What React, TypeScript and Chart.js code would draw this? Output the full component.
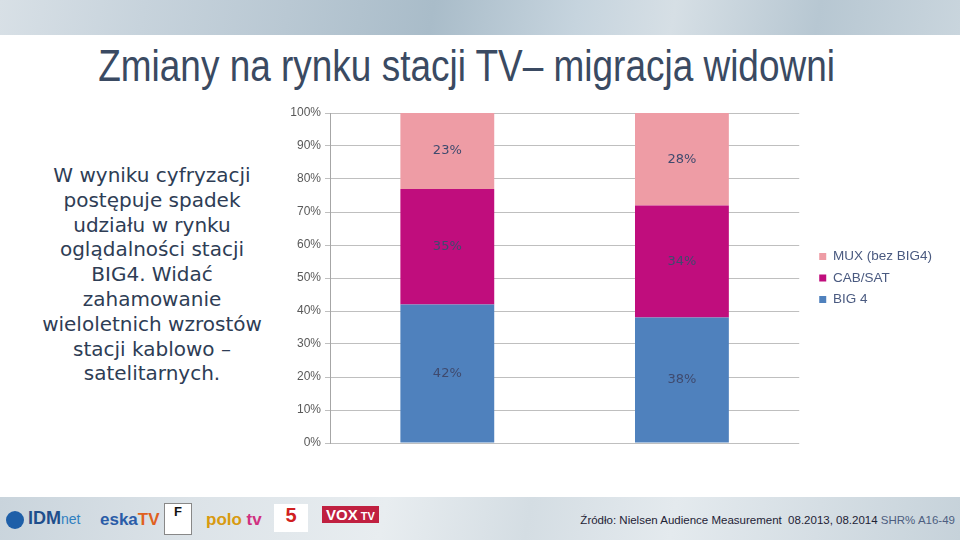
import React, { useEffect, useRef } from "react";
import { Chart, registerables } from "chart.js";

Chart.register(...registerables);

const categories = ["08.2013", "08.2014"];
const big4Values = [42, 38];
const cabSatValues = [35, 34];
const muxValues = [23, 28];
const seriesNames = ["BIG 4", "CAB/SAT", "MUX (bez BIG4)"];
const seriesColors = ["#4F81BD", "#C00D7D", "#EE9CA5"];
const yTicks = [0, 10, 20, 30, 40, 50, 60, 70, 80, 90, 100];

const titleText = "Zmiany na rynku stacji TV– migracja widowni";
const bodyLines = [
  "W wyniku cyfryzacji",
  "postępuje spadek",
  "udziału w rynku",
  "oglądalności stacji",
  "BIG4. Widać",
  "zahamowanie",
  "wieloletnich wzrostów",
  "stacji kablowo –",
  "satelitarnych.",
];
const sourceMain = "Źródło: Nielsen Audience Measurement  08.2013, 08.2014 ";
const sourceTail = "SHR% A16-49";

const labelPlugin = {
  id: "segLabels",
  afterDatasetsDraw(chart: any) {
    const { ctx } = chart;
    ctx.save();
    ctx.font = "13px 'DejaVu Sans', 'Liberation Sans', sans-serif";
    ctx.fillStyle = "#3F4A6E";
    ctx.textAlign = "center";
    ctx.textBaseline = "middle";
    chart.data.datasets.forEach((ds: any, di: number) => {
      const meta = chart.getDatasetMeta(di);
      meta.data.forEach((bar: any, i: number) => {
        const v = ds.data[i];
        const y = (bar.y + bar.base) / 2;
        ctx.fillText(v + "%", bar.x, y);
      });
    });
    ctx.restore();
  },
};

function ChartBox() {
  const ref = useRef<HTMLCanvasElement | null>(null);
  useEffect(() => {
    if (!ref.current) return;
    const values = [big4Values, cabSatValues, muxValues];
    const chart = new Chart(ref.current, {
      type: "bar",
      data: {
        labels: categories,
        datasets: values.map((d, i) => ({
          label: seriesNames[i],
          data: d,
          backgroundColor: seriesColors[i],
          borderWidth: 0,
          barPercentage: 0.4,
          categoryPercentage: 1,
        })),
      },
      options: {
        animation: false,
        responsive: false,
        maintainAspectRatio: false,
        layout: { padding: { top: 13, bottom: 17, right: 18, left: 0 } },
        plugins: {
          legend: {
            position: "right",
            reverse: true,
            maxWidth: 200,
            labels: {
              boxWidth: 7,
              boxHeight: 7,
              padding: 8,
              color: "#4A5A80",
              font: { size: 13.5, family: "'Liberation Sans', Arial, sans-serif" },
            },
          },
          tooltip: { enabled: false },
        },
        scales: {
          x: {
            stacked: true,
            display: false,
          },
          y: {
            stacked: true,
            min: 0,
            max: 100,
            afterFit: (s: any) => {
              s.width = 60;
            },
            afterBuildTicks: (s: any) => {
              s.ticks = yTicks.map((v) => ({ value: v }));
            },
            ticks: {
              color: "#595959",
              padding: 4,
              font: { size: 12, family: "'Liberation Sans', Arial, sans-serif" },
              callback: (v: any) => v + "%",
            },
            grid: { color: "#BFBFBF", lineWidth: 1, tickLength: 5, drawTicks: true },
            border: { color: "#A6A6A6", width: 1 },
          },
          y2: {
            position: "right",
            display: true,
            grid: { display: false, drawTicks: false },
            border: { display: false },
            ticks: { display: false },
            afterFit: (s: any) => {
              s.width = 12;
            },
          },
        },
      },
      plugins: [labelPlugin],
    } as any);
    return () => chart.destroy();
  }, []);
  return (
    <canvas
      ref={ref}
      width={690}
      height={360}
      style={{ position: "absolute", left: 270, top: 100, width: 690, height: 360 }}
    />
  );
}

export default function App() {
  return (
    <div
      style={{
        position: "fixed",
        left: 0,
        top: 0,
        width: 960,
        height: 540,
        background: "#FFFFFF",
        overflow: "hidden",
        fontFamily: "'Liberation Sans', Arial, sans-serif",
      }}
    >
      <div
        style={{
          position: "absolute",
          left: 0,
          top: 0,
          width: 960,
          height: 35,
          background:
            "linear-gradient(100deg, #D8E0E6 0%, #C7D3DC 15%, #B9C8D3 30%, #A9BCC9 45%, #C6D4DE 60%, #D6DFE5 70%, #B7C7D2 85%, #C9D5DD 100%)",
        }}
      />
      <div
        style={{
          position: "absolute",
          left: 0,
          top: 41,
          width: 960,
          textAlign: "center",
          fontSize: 44,
          color: "#3A4A62",
          whiteSpace: "nowrap",
          transform: "scaleX(0.84)",
          transformOrigin: "396px 0",
        }}
      >
        {titleText}
      </div>
      <div
        style={{
          position: "absolute",
          left: 12,
          top: 163,
          width: 280,
          textAlign: "center",
          fontFamily: "'DejaVu Sans', sans-serif",
          fontSize: 20,
          lineHeight: "24.8px",
          color: "#2E3D55",
        }}
      >
        {bodyLines.map((l, i) => (
          <div key={i}>{l}</div>
        ))}
      </div>
      <ChartBox />
      <div
        style={{
          position: "absolute",
          left: 0,
          top: 497,
          width: 960,
          height: 43,
          background:
            "linear-gradient(100deg, #C9D4DC 0%, #DCE3E8 20%, #E8EDF0 40%, #D4DDE3 55%, #E4EAEE 70%, #C6D2DA 100%)",
        }}
      />
      <div
        style={{
          position: "absolute",
          left: 6,
          top: 511,
          width: 18,
          height: 18,
          borderRadius: 9,
          background: "#1E5FA8",
        }}
      />
      <div style={{ position: "absolute", left: 28, top: 508, fontSize: 18, fontWeight: 700, color: "#1E4E8C" }}>
        IDM<span style={{ fontWeight: 400, fontSize: 14, color: "#2F7FC0" }}>net</span>
      </div>
      <div style={{ position: "absolute", left: 100, top: 510, fontSize: 17, fontWeight: 700, color: "#2A5CA8" }}>
        eska<span style={{ color: "#E06020" }}>TV</span>
      </div>
      <div
        style={{
          position: "absolute",
          left: 164,
          top: 503,
          width: 26,
          height: 30,
          background: "#FFFFFF",
          border: "1px solid #888",
          fontSize: 13,
          fontWeight: 700,
          textAlign: "center",
          color: "#111",
        }}
      >
        F
      </div>
      <div style={{ position: "absolute", left: 206, top: 510, fontSize: 17, fontWeight: 700, color: "#D89A10" }}>
        polo<span style={{ color: "#D03080" }}> tv</span>
      </div>
      <div
        style={{
          position: "absolute",
          left: 274,
          top: 504,
          width: 34,
          height: 28,
          background: "#FFFFFF",
          fontSize: 20,
          fontWeight: 700,
          textAlign: "center",
          color: "#D02020",
        }}
      >
        5
      </div>
      <div
        style={{
          position: "absolute",
          left: 322,
          top: 506,
          padding: "0 4px",
          background: "#C02040",
          fontSize: 15,
          fontWeight: 700,
          color: "#FFFFFF",
        }}
      >
        VOX<span style={{ fontSize: 11 }}> TV</span>
      </div>
      <div
        style={{
          position: "absolute",
          right: 5,
          top: 514,
          fontSize: 11.5,
          color: "#1E2235",
          whiteSpace: "pre",
        }}
      >
        {sourceMain}
        <span style={{ color: "#4D5E80" }}>{sourceTail}</span>
      </div>
    </div>
  );
}
